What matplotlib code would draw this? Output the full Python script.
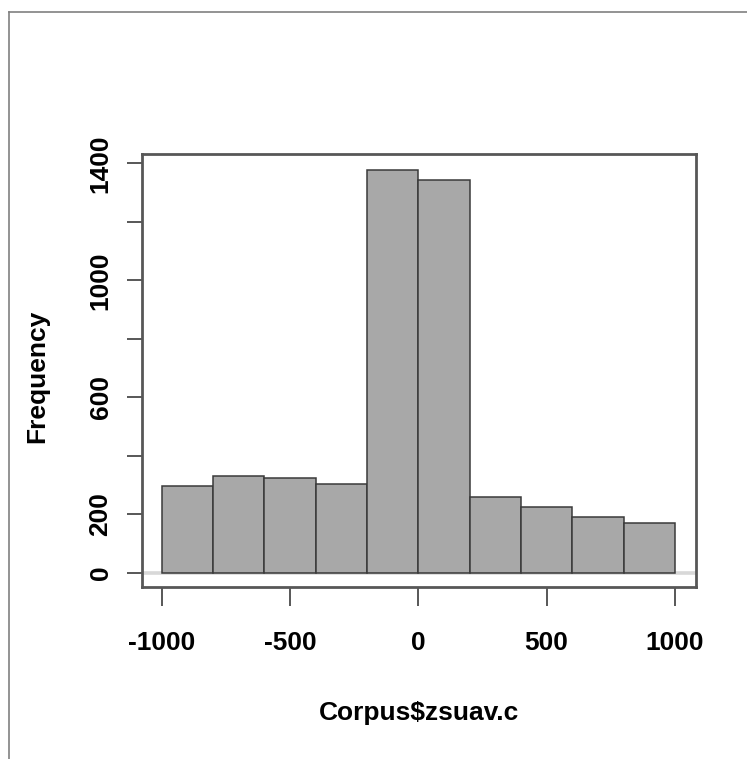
import matplotlib
matplotlib.use("Agg")
import matplotlib.pyplot as plt
from matplotlib.lines import Line2D

# histogram bins (width 200) and counts
bin_edges = [-1000, -800, -600, -400, -200, 0, 200, 400, 600, 800, 1000]
counts = [298, 331, 325, 303, 1377, 1343, 258, 225, 191, 171]

x_ticks = [-1000, -500, 0, 500, 1000]
x_labels = ["-1000", "-500", "0", "500", "1000"]
y_ticks = [0, 200, 400, 600, 800, 1000, 1200, 1400]
y_labels = ["0", "200", "", "600", "", "1000", "", "1400"]

FILL = "#a8a8a8"
EDGE = "#3a3a3a"
AXIS = "#575757"

plt.rcParams["font.family"] = ["Liberation Sans", "DejaVu Sans"]
plt.rcParams["font.weight"] = "bold"

W, H, DPI = 747, 759, 100
fig = plt.figure(figsize=(W / DPI, H / DPI), dpi=DPI)
fig.patch.set_facecolor("white")

# plot region in pixels
left, right, top, bottom = 141.7, 696.0, 154.3, 586.7
ax = fig.add_axes([left / W, 1 - bottom / H, (right - left) / W, (bottom - top) / H])

# light baseline under the bars
ax.axhline(0, color="#d8d8d8", lw=2.6, zorder=1)

widths = [bin_edges[i + 1] - bin_edges[i] for i in range(len(counts))]
ax.bar(bin_edges[:-1], counts, width=widths, align="edge",
       color=FILL, edgecolor=EDGE, linewidth=1.1, zorder=2)

ax.set_xlim(-1078, 1082)
ax.set_ylim(-48, 1431)

for s in ax.spines.values():
    s.set_color(AXIS)
    s.set_linewidth(2.0)

ax.set_xticks(x_ticks)
ax.set_xticklabels(x_labels, fontsize=19, fontweight="bold")
ax.set_yticks(y_ticks)
ax.set_yticklabels(y_labels, fontsize=19, fontweight="bold",
                   rotation=90, va="center")
ax.tick_params(axis="x", length=14, width=1.4, color=AXIS, pad=18)
ax.tick_params(axis="y", length=11, width=1.4, color=AXIS, pad=10)

fig.text(37 / W, 1 - 376 / H, "Frequency", rotation=90, fontsize=19,
         fontweight="bold", ha="center", va="center")
fig.text((left + right) / 2 / W, 1 - 713 / H, "Corpus$zsuav.c", fontsize=19,
         fontweight="bold", ha="center", va="center")

# outer frame (top and left edges)
fig.add_artist(Line2D([8.5 / W, 1.0], [1 - 12 / H, 1 - 12 / H],
                      transform=fig.transFigure, color="#808080", lw=1.2))
fig.add_artist(Line2D([8.5 / W, 8.5 / W], [0.0, 1 - 12 / H],
                      transform=fig.transFigure, color="#808080", lw=1.2))

fig.savefig("out.png", dpi=DPI, facecolor="white")
